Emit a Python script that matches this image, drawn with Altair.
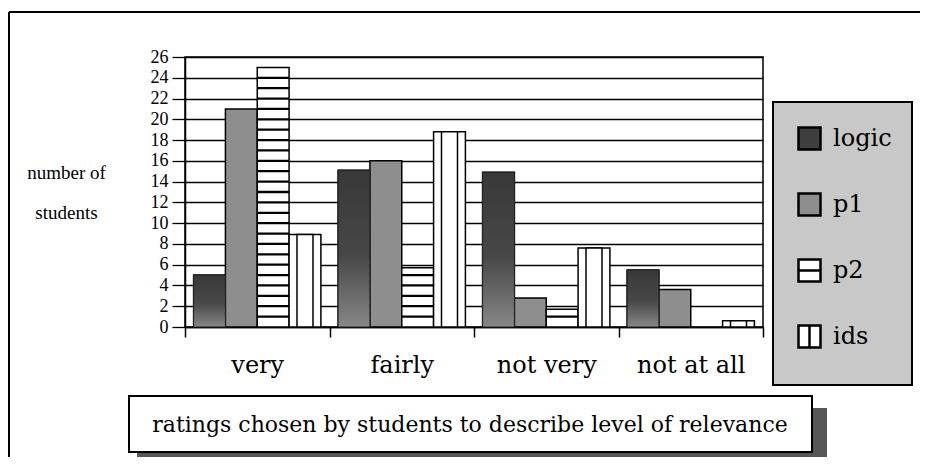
import altair as alt
import pandas as pd
import math

categories = ["very", "fairly", "not very", "not at all"]
series = ["logic", "p1", "p2", "ids"]
logic = [5, 15.1, 14.9, 5.5]
p1 = [21, 16, 2.8, 3.6]
p2 = [25, 5.7, 1.7, 0]
ids = [8.9, 18.8, 7.6, 0.6]
y_ticks = list(range(0, 27, 2))
y_title = ["number of", "students"]
x_title = "ratings chosen by students to describe level of relevance"
fills = ["#3e3e3e", "#8e8e8e", "white", "white"]

rows = []
for s, vals in zip(series, [logic, p1, p2, ids]):
    for c, v in zip(categories, vals):
        rows.append({"rating": c, "series": s, "count": v})
df = pd.DataFrame(rows)

stripes = pd.DataFrame(
    [{"rating": c, "series": "p2", "lo": k - 0.11, "hi": k + 0.11}
     for c, v in zip(categories, p2) for k in range(1, math.ceil(v))]
)

x_axis = alt.Axis(title=None, labelAngle=0, tickBand="extent", tickSize=10, tickWidth=1.5,
                  tickColor="black", domainColor="black", domainWidth=1.5,
                  labelFont="DejaVu Serif", labelFontSize=24, labelColor="black",
                  labelBaseline="alphabetic", labelPadding=35, grid=False)
y_axis = alt.Axis(values=y_ticks, grid=True, gridColor="black", gridWidth=1.3, gridOpacity=1,
                  domainColor="black", domainWidth=1.5, tickColor="black", tickSize=13, tickWidth=1.3,
                  labelFont="Liberation Serif", labelFontSize=18, labelColor="black", labelPadding=4,
                  title=y_title, titleAngle=0, titleX=-119, titleY=121, titleAlign="center",
                  titleBaseline="alphabetic", titleFont="Liberation Serif", titleFontSize=19,
                  titleFontWeight="normal", titleLineHeight=40, titleColor="black")

x_scale = alt.Scale(domain=categories, paddingInner=0, paddingOuter=0)
xo_scale = alt.Scale(domain=series, paddingInner=0, paddingOuter=0.27)
y_scale = alt.Scale(domain=[0, 26], nice=False)


def xenc():
    return alt.X("rating:N", sort=categories, scale=x_scale, axis=x_axis)


def xoenc():
    return alt.XOffset("series:N", sort=series, scale=xo_scale)


legend = alt.Legend(
    title=None, orient="none", legendX=588, legendY=45, direction="vertical",
    padding=24,
    symbolSize=484, symbolStrokeColor="black", symbolStrokeWidth=2.5,
    symbolType=alt.ExprRef(
        "datum.value == 'p2' ? 'M-1,-1H1V1H-1Z M-1,0H1' : "
        "datum.value == 'ids' ? 'M-1,-1H1V1H-1Z M0,-1V1' : 'square'"),
    symbolOpacity=1, labelFont="DejaVu Serif", labelFontSize=24, labelColor="black",
    labelOffset=11, rowPadding=33,
)

bars = alt.Chart(df).transform_filter("datum.count > 0").mark_bar(
    stroke="black", strokeWidth=1.5).encode(
    x=xenc(), xOffset=xoenc(),
    y=alt.Y("count:Q", scale=y_scale, axis=y_axis),
    color=alt.Color("series:N", sort=series,
                    scale=alt.Scale(domain=series, range=fills), legend=legend),
)

logic_bars = alt.Chart(df).transform_filter("datum.series == 'logic'").mark_bar(
    fill=alt.Gradient(gradient="linear",
                      stops=[alt.GradientStop(color="#383838", offset=0),
                             alt.GradientStop(color="#484848", offset=0.55),
                             alt.GradientStop(color="#878787", offset=1)],
                      x1=0, x2=0, y1=0, y2=1),
    stroke="#222", strokeWidth=1,
).encode(x=xenc(), xOffset=xoenc(), y=alt.Y("count:Q", scale=y_scale, axis=y_axis))

stripe_layer = alt.Chart(stripes).mark_bar(color="black").encode(
    x=xenc(), xOffset=xoenc(),
    y=alt.Y("lo:Q", scale=y_scale, axis=y_axis), y2="hi:Q",
)

ids_inner = alt.Chart(df).transform_filter("datum.series == 'ids'").mark_bar(
    size=16, fill="white", stroke="black", strokeWidth=1.5,
).encode(x=xenc(), xOffset=xoenc(), y=alt.Y("count:Q", scale=y_scale, axis=y_axis))

one = alt.Data(values=[{"k": 1}])
frame_left = alt.Chart(one).mark_rule(color="black", strokeWidth=2).encode(
    x=alt.value(-176), y=alt.value(-45), y2=alt.value(402))
frame_top = alt.Chart(one).mark_rule(color="black", strokeWidth=2).encode(
    x=alt.value(-176), x2=alt.value(740), y=alt.value(-45))
shadow = alt.Chart(one).mark_rect(fill="#575757").encode(
    x=alt.value(-48), x2=alt.value(642), y=alt.value(351), y2=alt.value(405))
box = alt.Chart(one).mark_rect(fill="white", stroke="black", strokeWidth=2).encode(
    x=alt.value(-56), x2=alt.value(627), y=alt.value(339), y2=alt.value(395))
legend_box = alt.Chart(one).mark_rect(fill="#c8c8c8", stroke="black", strokeWidth=2).encode(
    x=alt.value(588), x2=alt.value(727), y=alt.value(45), y2=alt.value(328))
title_text = alt.Chart(one).mark_text(font="DejaVu Serif", fontSize=22, align="center",
                                      baseline="alphabetic", color="black").encode(
    x=alt.value(285), y=alt.value(375), text=alt.value(x_title))

chart = alt.layer(
    frame_left, frame_top, shadow, box, legend_box, title_text,
    bars, logic_bars, stripe_layer, ids_inner,
).properties(
    width=578, height=270,
    autosize=alt.AutoSizeParams(type="none"),
    padding={"left": 177, "top": 49, "right": 157, "bottom": 130},
    background="white",
).configure_view(stroke="black", strokeWidth=1.5)

chart.save("out.html", embed_options={"renderer": "svg", "actions": False})
